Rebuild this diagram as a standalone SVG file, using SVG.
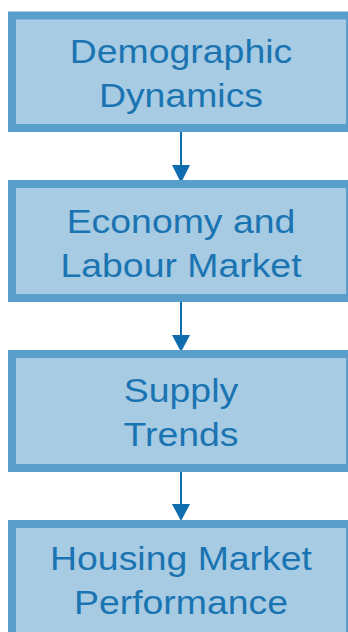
<svg xmlns="http://www.w3.org/2000/svg" width="348" height="632" viewBox="0 0 348 632">
<style>
.box{fill:#a7cbe3;stroke:#5a9fcb;stroke-width:8}
.lbl{font-family:"Liberation Sans",Arial,sans-serif;font-size:34px;fill:#1b74b2;text-anchor:middle}
.conn{stroke:#0f6cae;stroke-width:2;fill:none}
.head{fill:#0f6cae}
</style>
<rect width="348" height="632" fill="#ffffff"/>
<g id="connectors">
<line class="conn" x1="181" y1="132" x2="181" y2="168"/>
<polygon class="head" points="172,165 190,165 181,183"/>
<line class="conn" x1="181" y1="302" x2="181" y2="338"/>
<polygon class="head" points="172,335 190,335 181,352"/>
<line class="conn" x1="181" y1="472" x2="181" y2="507"/>
<polygon class="head" points="172,504 190,504 181,521"/>
</g>
<g id="node-demographic">
<rect class="box" x="12" y="15.5" width="338" height="112.5"/>
<text class="lbl" transform="translate(181,63) scale(1.1,1)">Demographic</text>
<text class="lbl" transform="translate(181,107) scale(1.1,1)">Dynamics</text>
</g>
<g id="node-economy">
<rect class="box" x="12" y="184" width="338" height="114"/>
<text class="lbl" transform="translate(181,232.5) scale(1.1,1)">Economy and</text>
<text class="lbl" transform="translate(181,276.5) scale(1.1,1)">Labour Market</text>
</g>
<g id="node-supply">
<rect class="box" x="12" y="354" width="338" height="114"/>
<text class="lbl" transform="translate(181,401.5) scale(1.1,1)">Supply</text>
<text class="lbl" transform="translate(181,445.5) scale(1.1,1)">Trends</text>
</g>
<g id="node-housing">
<rect class="box" x="12" y="524" width="338" height="114"/>
<text class="lbl" transform="translate(181,570) scale(1.1,1)">Housing Market</text>
<text class="lbl" transform="translate(181,614) scale(1.1,1)">Performance</text>
</g>
</svg>
